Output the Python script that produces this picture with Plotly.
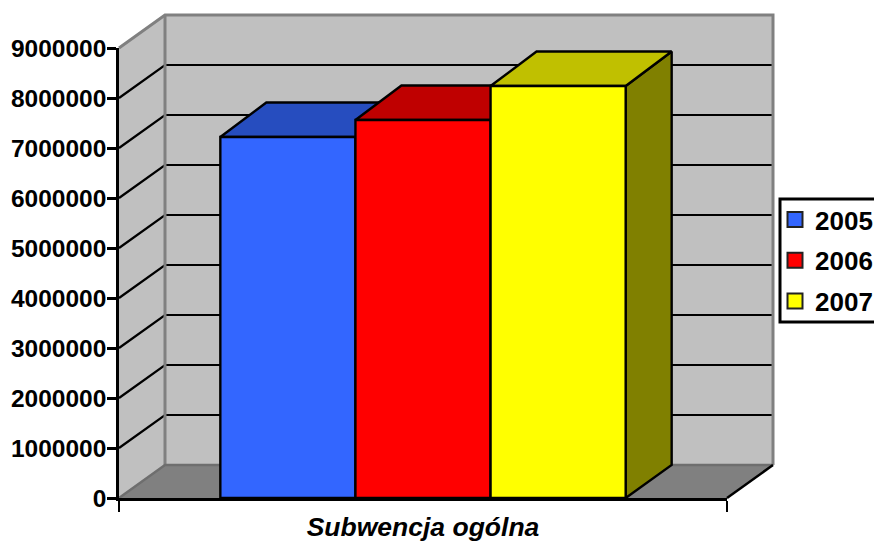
import plotly.graph_objects as go

category = "Subwencja ogólna"
years = ["2005", "2006", "2007"]
values = [7220000, 7560000, 8240000]
y_ticks = [0, 1000000, 2000000, 3000000, 4000000, 5000000, 6000000, 7000000, 8000000, 9000000]
front_colors = ["#3366FF", "#FF0000", "#FFFF00"]
top_colors = ["#264DBF", "#BF0000", "#C0C000"]
side_colors = ["#1A3380", "#800000", "#808000"]

WALL = "#C0C0C0"
FLOOR = "#808080"
EDGE = "#808080"
FONT = "Liberation Sans"
DX = 46 / 608           # oblique depth in category-axis units
DY = 660000             # oblique depth in value-axis units
BAR_DY = 690000         # depth of the bar tops
YMAX = y_ticks[-1]

# canvas subplot (holds the oblique drawing), in page pixels
CL, CR, CT, CB = 100, 874, 5, 510
# axes subplot (holds ticks and axis lines), in page pixels
AL, AR, AT, AB = 119, 727, 48, 498
PXX = AR - AL
PXY = YMAX / (AB - AT)

fig = go.Figure()


def poly(xs, ys, fill=None, line="black", width=2):
    fig.add_trace(go.Scatter(
        x=xs, y=ys, mode="lines", showlegend=False, hoverinfo="skip",
        fill="toself" if fill else "none", fillcolor=fill,
        line=dict(color=line, width=width),
    ))


# walls and floor
poly([0, DX, DX, 0, 0], [0, DY, YMAX + DY, YMAX, 0], WALL, WALL, 0.5)
poly([DX, 1 + DX, 1 + DX, DX, DX], [DY, DY, YMAX + DY, YMAX + DY, DY], WALL, WALL, 0.5)
poly([0, 1, 1 + DX, DX, 0], [0, 0, DY, DY, 0], FLOOR, FLOOR, 0.5)

# gridlines
for v in y_ticks[1:-1]:
    poly([0, DX, 1 + DX], [v, v + DY, v + DY], width=2.2)

# wall edges
poly([0, DX, 1 + DX, 1 + DX], [YMAX, YMAX + DY, YMAX + DY, DY], None, EDGE, 3)
poly([DX, DX], [DY, YMAX + DY], None, EDGE, 3)
poly([0, DX, 1 + DX], [0, DY, DY], None, "#6E6E6E", 2.5)
poly([1, 1 + DX], [0, DY], None, "black", 2.5)

# bars: category band with a 150% gap width
n = len(values)
bar_w = 1 / (n + 1.5)
start = 0.75 * bar_w
for i, v in enumerate(values):
    x0 = start + i * bar_w
    x1 = x0 + bar_w
    poly([x1, x1 + DX, x1 + DX, x1, x1], [0, DY, v + BAR_DY, v, 0], side_colors[i], width=2.4)
    poly([x0, x1, x1 + DX, x0 + DX, x0], [v, v, v + BAR_DY, v + BAR_DY, v], top_colors[i], width=2.4)
    poly([x0, x1, x1, x0, x0], [0, 0, v, v, 0], front_colors[i], width=2.4)

# legend entries (on the axes subplot so that it draws its axes)
for name, c in zip(years, front_colors):
    fig.add_trace(go.Scatter(
        x=[None], y=[None], xaxis="x2", yaxis="y2", mode="markers", name=name, legendgroup=name,
        marker=dict(symbol="square", size=15, color=c, line=dict(color="#222222", width=2)),
    ))

cw, ch = CR - CL, CB - CT
fig.update_layout(
    width=874, height=542, autosize=False,
    margin=dict(l=CL, r=874 - CR, t=CT, b=542 - CB, autoexpand=False),
    paper_bgcolor="white", plot_bgcolor="rgba(0,0,0,0)",
    font=dict(family=FONT, color="black"),
    xaxis=dict(visible=False, domain=[0, 1], range=[(CL - AL) / PXX, (CR - AL) / PXX]),
    yaxis=dict(visible=False, domain=[0, 1], range=[(AB - CB) * PXY, (AB - CT) * PXY]),
    xaxis2=dict(
        domain=[(AL - CL) / cw, (AR - CL) / cw], anchor="y2",
        range=[0, 1], tickvals=[0, 1], ticktext=["", ""], ticks="outside", ticklen=11,
        tickwidth=2, tickcolor="black", showline=True, linecolor="black", linewidth=2.5,
        showgrid=False, zeroline=False,
        title=dict(text=category, standoff=11,
                   font=dict(family=FONT, size=26.5, weight="bold", style="italic", color="black")),
    ),
    yaxis2=dict(
        domain=[(CB - AB) / ch, (CB - AT) / ch], anchor="x2",
        range=[0, YMAX], tickvals=y_ticks, tickformat="d", ticks="outside", ticklen=9,
        tickwidth=3, tickcolor="black", showline=True, linecolor="black", linewidth=2.5,
        showgrid=False, zeroline=False, ticklabelstandoff=-4,
        tickfont=dict(family=FONT, size=24.5, weight="bold", color="black"),
    ),
    shapes=[dict(
        type="rect", xref="paper", yref="paper", layer="above",
        x0=(780 - CL) / cw, x1=(885 - CL) / cw, y0=(CB - 322) / ch, y1=(CB - 199) / ch,
        fillcolor="white", line=dict(color="black", width=3),
    )],
    legend=dict(
        x=(775 - CL) / cw, y=(CB - 196) / ch, xanchor="left", yanchor="top",
        borderwidth=0, bgcolor="rgba(0,0,0,0)",
        font=dict(family=FONT, size=26, weight="bold", color="black"),
        traceorder="grouped", tracegroupgap=4, itemclick=False, itemdoubleclick=False,
    ),
)

fig.write_html("out.html", post_script="document.body.style.margin='0';",
               config={"displayModeBar": False})
